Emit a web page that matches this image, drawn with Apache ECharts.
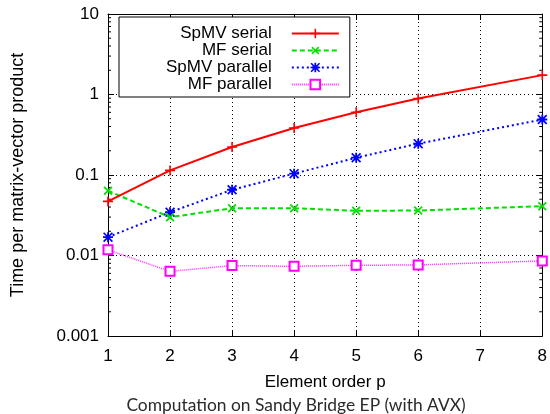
<!DOCTYPE html>
<html><head><meta charset="utf-8">
<script src="https://cdn.jsdelivr.net/npm/echarts@6/dist/echarts.min.js"></script>
<style>html,body{margin:0;padding:0;background:#fff}#c{width:550px;height:414px}</style>
</head><body><div id="c"></div>
<script>
const orders = [1, 2, 3, 4, 5, 6, 8];
const spmvSerial = [0.047, 0.114, 0.223, 0.384, 0.602, 0.891, 1.74];
const mfSerial = [0.0637, 0.0299, 0.0387, 0.0387, 0.0359, 0.0362, 0.041];
const spmvParallel = [0.0169, 0.0345, 0.0656, 0.104, 0.164, 0.245, 0.489];
const mfParallel = [0.01175, 0.00636, 0.00749, 0.00734, 0.00755, 0.00764, 0.00857];
const seriesNames = ['SpMV serial', 'MF serial', 'SpMV parallel', 'MF parallel'];
const xTickValues = [1, 2, 3, 4, 5, 6, 7, 8];
const yTickLabels = ['0.001', '0.01', '0.1', '1', '10'];
const yMinorTicks = [
  0.002, 0.003, 0.004, 0.005, 0.006, 0.007, 0.008, 0.009,
  0.02, 0.03, 0.04, 0.05, 0.06, 0.07, 0.08, 0.09,
  0.2, 0.3, 0.4, 0.5, 0.6, 0.7, 0.8, 0.9,
  2, 3, 4, 5, 6, 7, 8, 9
];
const xAxisTitle = 'Element order p';
const yAxisTitle = 'Time per matrix-vector product';
const caption = 'Computation on Sandy Bridge EP (with AVX)';

const FONT = 'Liberation Sans';
const PLUS = 'path://M4.2,0H5.8V10H4.2Z M0,4.2H10V5.8H0Z';
const STAR = 'path://M4.1,0H5.9V10H4.1Z M0,4.1H10V5.9H0Z M1.2,0L10,8.8L8.8,10L0,1.2Z M8.8,0L10,1.2L1.2,10L0,8.8Z';
const X_MIN = 1, X_MAX = 8;

function pairs(vals) { return orders.map((o, i) => [o, vals[i]]); }
function fmtLog(v) {
  const s = String(Number(v.toPrecision(3)));
  return yTickLabels.indexOf(s) >= 0 ? s : '';
}

const gridLine = { show: true, lineStyle: { color: '#000', type: [1, 3], width: 1 } };
const boxLine = { show: true, onZero: false, lineStyle: { color: '#000', width: 1 } };
const majorTick = { show: true, inside: true, length: 6, lineStyle: { color: '#000' } };

const chart = echarts.init(document.getElementById('c'), null, { renderer: 'canvas' });
chart.setOption({
  animation: false,
  backgroundColor: '#fff',
  grid: { left: 108, right: 7, top: 14, bottom: 78, containLabel: false },
  title: {
    text: caption, left: 291, textAlign: 'center', top: 392,
    textStyle: { fontFamily: 'Lato', fontSize: 17.4, fontWeight: 'normal', color: '#2a2a2a' }
  },
  legend: {
    data: seriesNames, orient: 'vertical', align: 'right',
    left: 119, top: 17, padding: [8, 10, 4, 47],
    borderColor: '#000', borderWidth: 1, backgroundColor: '#fff',
    itemWidth: 47, itemHeight: 12, itemGap: 0,
    textStyle: { fontFamily: FONT, fontSize: 17, lineHeight: 17, color: '#000', padding: [0, 15, 0, 0] }
  },
  xAxis: [{
    type: 'value', min: X_MIN, max: X_MAX, interval: 1, position: 'bottom',
    name: xAxisTitle, nameLocation: 'middle', nameGap: 38,
    nameTextStyle: { fontFamily: FONT, fontSize: 17, color: '#000' },
    axisLine: boxLine, axisTick: majorTick,
    axisLabel: { fontFamily: FONT, fontSize: 17, color: '#000', margin: 12,
      formatter: v => (xTickValues.indexOf(v) >= 0 ? String(v) : '') },
    splitLine: gridLine
  }, {
    type: 'value', min: X_MIN, max: X_MAX, interval: 1, position: 'top',
    axisLine: boxLine, axisTick: majorTick,
    axisLabel: { show: false }, splitLine: { show: false }
  }],
  yAxis: [{
    type: 'log', logBase: 10, min: 0.001, max: 10, position: 'left',
    name: yAxisTitle, nameLocation: 'middle', nameGap: 81,
    nameTextStyle: { fontFamily: FONT, fontSize: 18, color: '#000' },
    axisLine: boxLine, axisTick: majorTick,
    axisLabel: { fontFamily: FONT, fontSize: 17, color: '#000', margin: 9, formatter: fmtLog },
    splitLine: gridLine
  }, {
    type: 'log', logBase: 10, min: 0.001, max: 10, position: 'right',
    axisLine: boxLine, axisTick: majorTick,
    axisLabel: { show: false }, splitLine: { show: false }
  }],
  series: [{
    name: seriesNames[0], type: 'line', data: pairs(spmvSerial),
    symbol: PLUS, symbolSize: 10, color: '#ff0000',
    lineStyle: { color: '#ff0000', width: 2, type: 'solid' },
    itemStyle: { color: '#ff0000' }, z: 5
  }, {
    name: seriesNames[1], type: 'line', data: pairs(mfSerial),
    symbol: PLUS, symbolRotate: 45, symbolSize: 11, color: '#00e000',
    lineStyle: { color: '#00e000', width: 2, type: [5, 3] },
    itemStyle: { color: '#00e000' }, z: 4
  }, {
    name: seriesNames[2], type: 'line', data: pairs(spmvParallel),
    symbol: STAR, symbolSize: 10, color: '#0000ff',
    lineStyle: { color: '#0000ff', width: 2, type: [2, 3] },
    itemStyle: { color: '#0000ff' }, z: 3
  }, {
    name: seriesNames[3], type: 'line', data: pairs(mfParallel),
    symbol: 'emptyRect', symbolSize: 9, color: '#ff00ff',
    lineStyle: { color: '#ff00ff', width: 1.5, type: [1, 1], opacity: 0.8 },
    itemStyle: { color: '#ff00ff', borderColor: '#ff00ff', borderWidth: 2 }, z: 2
  }, {
    name: 'yMinorTicks', type: 'custom', silent: true, z: 1,
    data: yMinorTicks.map(v => [X_MIN, v]),
    encode: { x: 0, y: 1 },
    renderItem: function (params, api) {
      const v = api.value(1);
      const l = api.coord([X_MIN, v]);
      const r = api.coord([X_MAX, v]);
      const st = { stroke: '#000', lineWidth: 1 };
      return { type: 'group', children: [
        { type: 'line', shape: { x1: l[0], y1: l[1], x2: l[0] + 3, y2: l[1] }, style: st },
        { type: 'line', shape: { x1: r[0] - 3, y1: r[1], x2: r[0], y2: r[1] }, style: st }
      ] };
    }
  }]
});
</script>
</body></html>
